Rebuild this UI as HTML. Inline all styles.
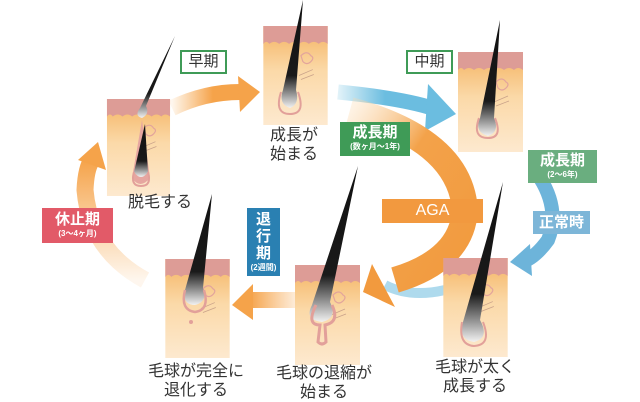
<!DOCTYPE html>
<html><head><meta charset="utf-8"><style>
html,body{margin:0;padding:0;background:#fff;}
body{width:640px;height:400px;overflow:hidden;position:relative;font-family:"Liberation Sans","Noto Sans CJK JP",sans-serif;}
.t{position:absolute;font-size:16px;color:#333;line-height:19px;text-align:center;white-space:nowrap;}
.b{position:absolute;color:#fff;text-align:center;font-weight:bold;line-height:1;}
</style></head><body>
<svg width="640" height="400" style="position:absolute;left:0;top:0">
<defs>
<linearGradient id="sk" x1="0" y1="0" x2="0" y2="1">
<stop offset="0" stop-color="#f4b260"/><stop offset="0.45" stop-color="#fbd9a8"/><stop offset="1" stop-color="#fde9cf"/></linearGradient>
<linearGradient id="hr" x1="0" y1="0" x2="0" y2="1">
<stop offset="0" stop-color="#111"/><stop offset="0.7" stop-color="#1a1a1a"/><stop offset="1" stop-color="#f2f2f2"/></linearGradient>
<symbol id="skin" viewBox="0 0 65 100" width="65" height="100">
<rect x="0" y="0" width="65" height="100" fill="url(#sk)"/>
<path d="M0 0H65V18Q60 14 56 18Q51 14 46 18Q41 14 36 18Q31 14 26 18Q21 14 16 18Q11 14 6 18Q3 14 0 18Z" fill="#dd9c96"/>
<path d="M38 30q6-6 10 0q4 2 0 6q-4 4-8 0z" fill="none" stroke="#e2a49c" stroke-width="1.2"/>
<path d="M36 50l14-6M38 54l13-5" stroke="#c9a28a" stroke-width="0.8"/>
</symbol>
<linearGradient id="og1" x1="0" y1="0" x2="1" y2="0"><stop offset="0" stop-color="#f7a850" stop-opacity="0.1"/><stop offset="0.6" stop-color="#f5a34a"/></linearGradient>
<linearGradient id="bg1" x1="0" y1="0" x2="1" y2="0"><stop offset="0" stop-color="#6fc0e0" stop-opacity="0.2"/><stop offset="0.5" stop-color="#6bbde0"/></linearGradient>
<linearGradient id="og2" x1="0" y1="0" x2="0" y2="1"><stop offset="0" stop-color="#f5a34a"/><stop offset="1" stop-color="#f7a850" stop-opacity="0.1"/></linearGradient>
<linearGradient id="og3" gradientUnits="userSpaceOnUse" x1="250" y1="0" x2="298" y2="0"><stop offset="0" stop-color="#f5a34a"/><stop offset="1" stop-color="#f7b060" stop-opacity="0.2"/></linearGradient>
<linearGradient id="ag" x1="0" y1="0" x2="1" y2="1"><stop offset="0" stop-color="#fbd7a8" stop-opacity="0.3"/><stop offset="0.4" stop-color="#f3a24a"/><stop offset="1" stop-color="#f29a3e"/></linearGradient>
</defs>

<path d="M172 108Q205 92 240 92" stroke="url(#og1)" stroke-width="16" fill="none"/>
<path d="M238 76L260 92L240 112Z" fill="#f5a34a"/>
<path d="M338 92Q400 98 432 108" stroke="url(#bg1)" stroke-width="15" fill="none"/>
<path d="M428 84L456 114L425 131Z" fill="#6bbde0"/>
<path d="M445 290Q410 298 385 285" stroke="#8ccbe6" stroke-width="10" fill="none" opacity="0.7"/>
<path d="M350 110Q460 140 465 210Q462 260 395 280" stroke="url(#ag)" stroke-width="26" fill="none"/>
<path d="M372 264L363 292L395 307Z" fill="#f29a3e"/>
<path d="M540 178Q560 210 548 240Q535 258 522 262" stroke="#6db4da" stroke-width="14" fill="none"/>
<path d="M510 262L530 244L532 276Z" fill="#6db4da"/>
<path d="M250 300H298" stroke="url(#og3)" stroke-width="16" fill="none"/>
<path d="M253 284L232 305L253 320Z" fill="#f5a34a"/>
<path d="M145 280Q90 250 85 190Q86 168 92 160" stroke="url(#og2)" stroke-width="17" fill="none"/>
<path d="M78 160L98 142L106 170Z" fill="#f5a34a"/>

<use href="#skin" x="106" y="99" width="65" height="97"/>
<use href="#skin" x="263" y="26" width="65" height="99"/>
<use href="#skin" x="458" y="52" width="65" height="100"/>
<use href="#skin" x="443" y="258" width="65" height="99"/>
<use href="#skin" x="295" y="265" width="65" height="100"/>
<use href="#skin" x="165" y="259" width="65" height="99"/>

<!-- hair P1 -->
<path d="M175 36L140 108Q134 116 142 118Q150 114 146 106Z" fill="url(#hr)"/>
<path d="M142 120L132 178Q140 190 150 178Z" fill="#e6a6a0"/>
<path d="M145 124L134 172Q141 182 148 172Z" fill="url(#hr)"/>
<path d="M134 172Q130 186 141 186Q152 186 148 172" fill="none" stroke="#e2a09a" stroke-width="2"/>
<!-- hair P2 -->
<path d="M303 0L283 90Q278 104 290 108Q300 104 296 90Z" fill="url(#hr)"/>
<path d="M281 92Q274 114 290 114Q306 114 298 92" fill="none" stroke="#e2a09a" stroke-width="2"/>
<!-- hair P3 -->
<path d="M500 20L480 118Q474 132 488 136Q500 132 494 118Z" fill="url(#hr)"/>
<path d="M479 118Q472 138 488 138Q503 138 495 118" fill="none" stroke="#e2a09a" stroke-width="2"/>
<!-- hair P4 -->
<path d="M503 182L463 322Q458 340 474 342Q490 338 480 320Z" fill="url(#hr)"/>
<path d="M462 322Q458 345 474 346Q492 345 483 322" fill="none" stroke="#e2a09a" stroke-width="2"/>
<!-- hair P5 -->
<path d="M358 166L312 305Q304 320 322 322Q338 318 330 302Z" fill="url(#hr)"/>
<path d="M316 305Q306 325 320 325L318 342Q322 346 326 342L325 325Q340 322 332 305" fill="none" stroke="#e2a09a" stroke-width="3"/>
<!-- hair P6 -->
<path d="M212 194L185 290Q182 305 195 305Q208 302 203 288Z" fill="url(#hr)"/>
<path d="M185 290Q180 310 195 312Q210 310 204 290" fill="none" stroke="#e2a09a" stroke-width="2.5"/>
<circle cx="191" cy="322" r="2" fill="#e2a09a"/>
</svg>

<div class="b" style="left:180px;top:50px;width:43px;height:20px;border:2px solid #3f9b57;color:#333;font-weight:normal;font-size:15px;line-height:20px;background:#fff">早期</div>
<div class="b" style="left:406px;top:50px;width:43px;height:20px;border:2px solid #3f9b57;color:#333;font-weight:normal;font-size:15px;line-height:20px;background:#fff">中期</div>
<div class="b" style="left:340px;top:122px;width:70px;height:34px;background:#3f9b57"><div style="font-size:15px;margin-top:3px">成長期</div><div style="font-size:8px;margin-top:3px">(数ヶ月〜1年)</div></div>
<div class="b" style="left:528px;top:150px;width:69px;height:33px;background:#6aae7f"><div style="font-size:15px;margin-top:3px">成長期</div><div style="font-size:8px;margin-top:3px">(2〜6年)</div></div>
<div class="b" style="left:533px;top:211px;width:57px;height:23px;background:#7db6d8;font-size:15px;line-height:23px">正常時</div>
<div class="b" style="left:382px;top:199px;width:101px;height:24px;background:#f2993f;font-size:16px;line-height:24px;font-weight:normal">AGA</div>
<div class="b" style="left:42px;top:208px;width:71px;height:35px;background:#e25a68"><div style="font-size:15px;margin-top:4px">休止期</div><div style="font-size:8px;margin-top:3px">(3〜4ヶ月)</div></div>
<div class="b" style="left:247px;top:208px;width:33px;height:68px;background:#2a80b2"><div style="font-size:15px;line-height:17px;margin-top:3px">退<br>行<br>期</div><div style="font-size:8px;margin-top:2px">(2週間)</div></div>

<div class="t" style="left:128px;top:193px">脱毛する</div>
<div class="t" style="left:270px;top:126px">成長が<br>始まる</div>
<div class="t" style="left:435px;top:358px">毛球が太く<br>成長する</div>
<div class="t" style="left:276px;top:364px">毛球の退縮が<br>始まる</div>
<div class="t" style="left:148px;top:362px">毛球が完全に<br>退化する</div>
</body></html>
